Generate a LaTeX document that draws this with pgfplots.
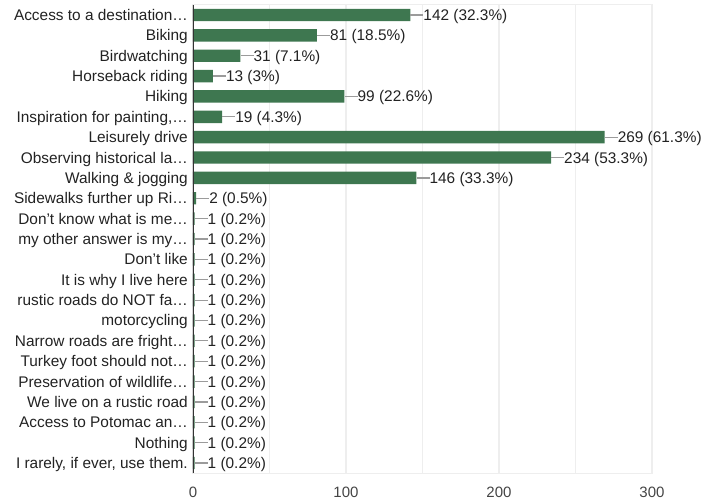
\documentclass[border=0pt]{standalone}
\usepackage{pgfplots}
\pgfplotsset{compat=1.18}
\usepackage{fontspec}
\setmainfont{Liberation Sans}

\definecolor{barg}{RGB}{62,119,80}
\definecolor{gridg}{RGB}{238,238,238}
\definecolor{lineg}{RGB}{155,155,155}
\definecolor{txt}{RGB}{34,34,34}
\definecolor{tickt}{RGB}{68,68,68}
\definecolor{axisdark}{RGB}{51,51,51}

\begin{document}
\begin{tikzpicture}
\begin{axis}[
    xbar,
    scale only axis,
    width=459bp, height=468.4bp,
    xmin=0, xmax=300,
    ymin=-0.5, ymax=22.5,
    y dir=reverse,
    xtick={0,100,200,300},
    minor xtick={50,150,250},
    xmajorgrids, xminorgrids,
    grid style={gridg, line width=1.2bp},
    minor grid style={gridg, line width=1.2bp},
    axis line style={gridg, line width=1bp},
    tick style={draw=none},
    major tick length=0pt, minor tick length=0pt,
    ytick={0,...,22},
    yticklabels={
        {Access to a destination…},
        {Biking},
        {Birdwatching},
        {Horseback riding},
        {Hiking},
        {Inspiration for painting,…},
        {Leisurely drive},
        {Observing historical la…},
        {Walking \& jogging},
        {Sidewalks further up Ri…},
        {Don’t know what is me…},
        {my other answer is my…},
        {Don’t like},
        {It is why I live here},
        {rustic roads do NOT fa…},
        {motorcycling},
        {Narrow roads are fright…},
        {Turkey foot should not…},
        {Preservation of wildlife…},
        {We live on a rustic road},
        {Access to Potomac an…},
        {Nothing},
        {I rarely, if ever, use them.}
    },
    yticklabel style={anchor=base east, inner sep=0pt, xshift=-5bp, yshift=-5.5bp,
        font=\fontsize{15.4bp}{18bp}\selectfont, text=txt},
    xticklabel style={anchor=base, inner sep=0pt, yshift=-23.8bp,
        font=\fontsize{15bp}{17bp}\selectfont, text=tickt},
    /pgf/number format/assume math mode=true,
    bar width=12.4bp,
    point meta=explicit symbolic,
    nodes near coords={\textcolor{lineg}{\rule[4.9bp]{13bp}{1.2bp}}\pgfplotspointmeta},
    nodes near coords style={anchor=base west, inner sep=0pt, yshift=-5.5bp,
        font=\fontsize{15.4bp}{18bp}\selectfont, text=txt},
]
\addplot[fill=barg, draw=none] coordinates {
    (142,0)  [142 (32.3\%)]
    (81,1)   [81 (18.5\%)]
    (31,2)   [31 (7.1\%)]
    (13,3)   [13 (3\%)]
    (99,4)   [99 (22.6\%)]
    (19,5)   [19 (4.3\%)]
    (269,6)  [269 (61.3\%)]
    (234,7)  [234 (53.3\%)]
    (146,8)  [146 (33.3\%)]
    (2,9)    [2 (0.5\%)]
    (1,10)   [1 (0.2\%)]
    (1,11)   [1 (0.2\%)]
    (1,12)   [1 (0.2\%)]
    (1,13)   [1 (0.2\%)]
    (1,14)   [1 (0.2\%)]
    (1,15)   [1 (0.2\%)]
    (1,16)   [1 (0.2\%)]
    (1,17)   [1 (0.2\%)]
    (1,18)   [1 (0.2\%)]
    (1,19)   [1 (0.2\%)]
    (1,20)   [1 (0.2\%)]
    (1,21)   [1 (0.2\%)]
    (1,22)   [1 (0.2\%)]
};
\draw[axisdark, line width=2bp] (axis cs:0,-0.5) -- (axis cs:0,22.5);
\end{axis}
\pgfresetboundingbox
\path ([xshift=-193bp,yshift=4.8bp]current axis.north west)
    rectangle ([xshift=60bp,yshift=-27.8bp]current axis.south east);
\end{tikzpicture}
\end{document}
